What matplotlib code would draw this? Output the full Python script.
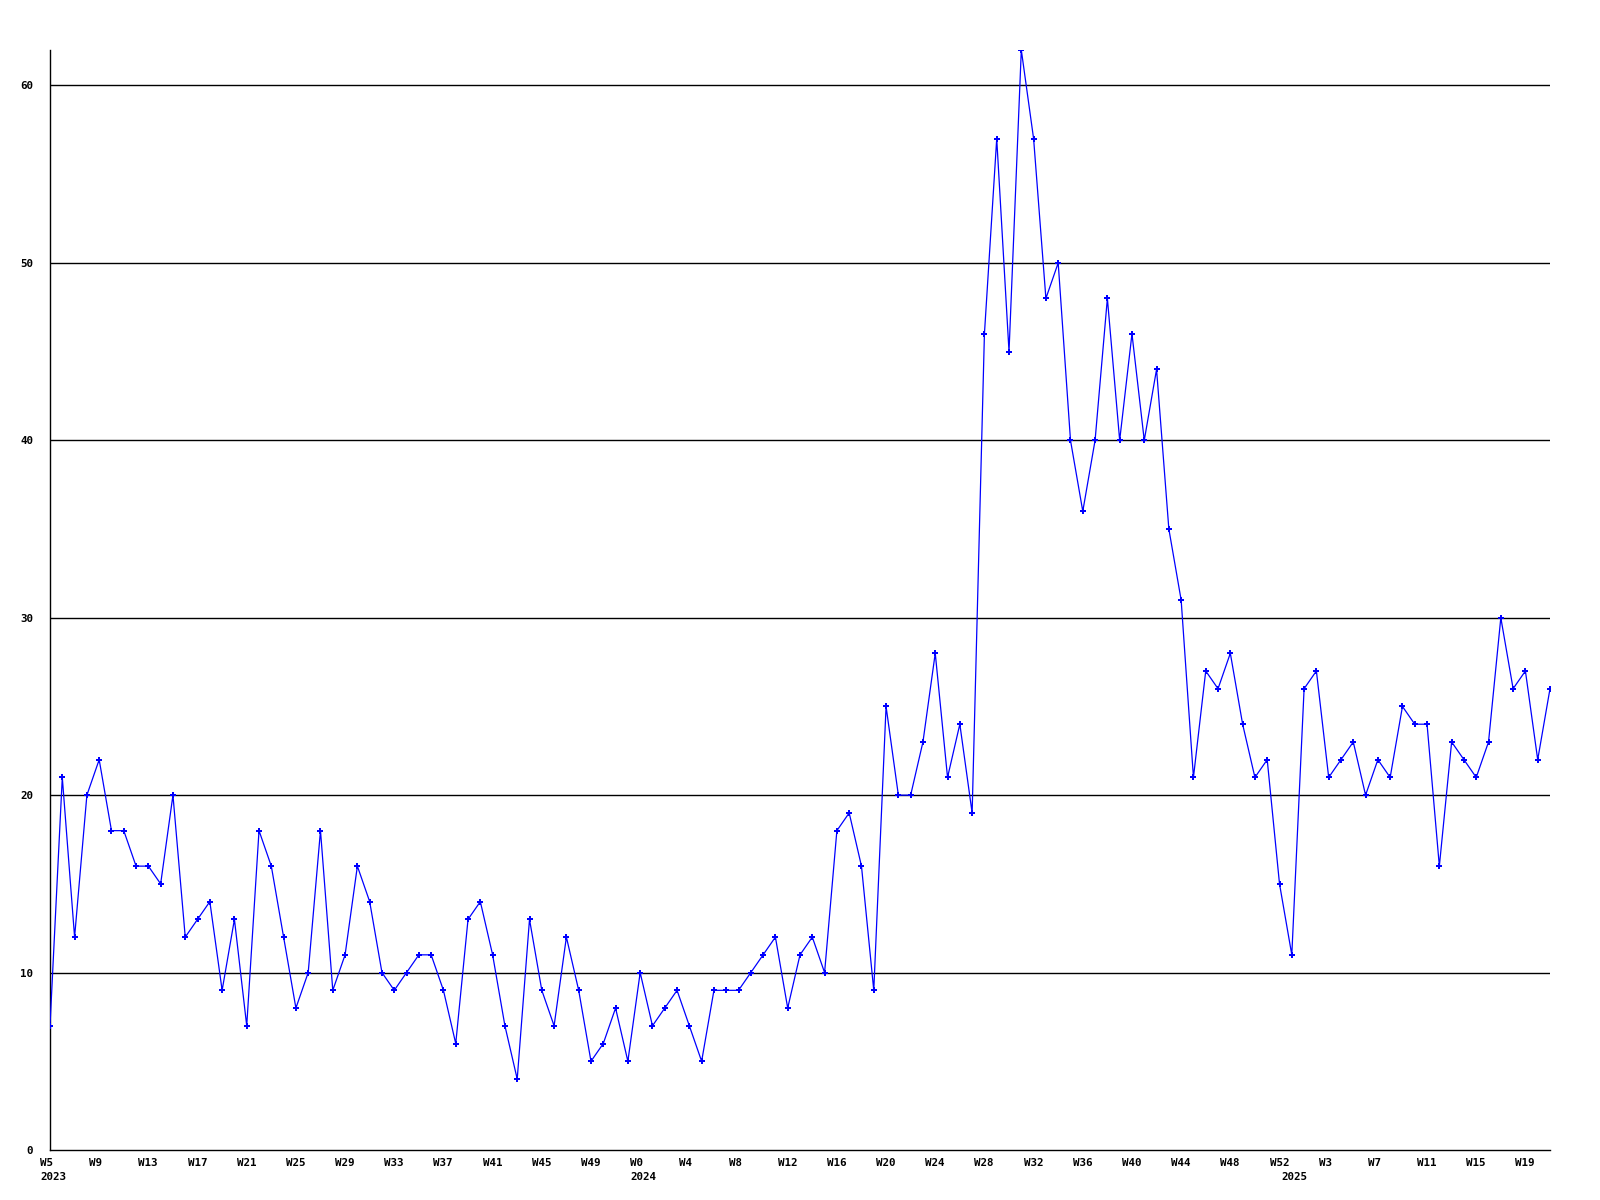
import matplotlib

matplotlib.use("Agg")
import matplotlib.pyplot as plt
from matplotlib.transforms import ScaledTranslation

# week numbers per year (categories, in order)
WEEKS_2023 = list(range(5, 53))
WEEKS_2024 = list(range(0, 53))
WEEKS_2025 = list(range(0, 22))

# weekly counts
VALUES_2023 = [7, 21, 12, 20, 22, 18, 18, 16, 16, 15, 20, 12, 13, 14, 9, 13,
               7, 18, 16, 12, 8, 10, 18, 9, 11, 16, 14, 10, 9, 10, 11, 11,
               9, 6, 13, 14, 11, 7, 4, 13, 9, 7, 12, 9, 5, 6, 8, 5]
VALUES_2024 = [10, 7, 8, 9, 7, 5, 9, 9, 9, 10, 11, 12, 8, 11, 12, 10,
               18, 19, 16, 9, 25, 20, 20, 23, 28, 21, 24, 19, 46, 57, 45, 62,
               57, 48, 50, 40, 36, 40, 48, 40, 46, 40, 44, 35, 31, 21, 27, 26,
               28, 24, 21, 22, 15]
VALUES_2025 = [11, 26, 27, 21, 22, 23, 20, 22, 21, 25, 24, 24, 16, 23, 22,
               21, 23, 30, 26, 27, 22, 26]

YEARS = [2023, 2024, 2025]
Y_TICKS = [0, 10, 20, 30, 40, 50, 60]

weeks = WEEKS_2023 + WEEKS_2024 + WEEKS_2025
values = VALUES_2023 + VALUES_2024 + VALUES_2025
x = list(range(len(values)))
year_start = [0, len(WEEKS_2023), len(WEEKS_2023) + len(WEEKS_2024)]

LABEL_FONT = {"family": "DejaVu Sans Mono", "weight": "bold", "size": 7.8}

fig = plt.figure(figsize=(16, 12), dpi=100)
ax = fig.add_axes([50 / 1600, 50 / 1200, 1500 / 1600, 1100 / 1200])

# horizontal rules at every labelled value above zero
for y in Y_TICKS[1:]:
    ax.axhline(y, color="black", linewidth=1.0, zorder=1)

ax.plot(x, values, color="#0000ff", linewidth=0.9, marker="P",
        markersize=4.5, markeredgewidth=0, zorder=3)

ax.set_xlim(0, len(values) - 1)
ax.set_ylim(0, 62)

for side in ("top", "right"):
    ax.spines[side].set_visible(False)
for side in ("left", "bottom"):
    ax.spines[side].set_linewidth(1.0)
    ax.spines[side].set_color("black")

ax.set_yticks(Y_TICKS)
ax.set_yticklabels([str(v) for v in Y_TICKS], fontdict=LABEL_FONT)
ax.tick_params(axis="y", length=0, pad=12)

# every 4th week labelled, text starting a little left of the point
tick_idx = x[::4]
ax.set_xticks(tick_idx)
ax.set_xticklabels([f"W{weeks[i]}" for i in tick_idx], fontdict=LABEL_FONT)
ax.tick_params(axis="x", length=0, pad=6)
shift = ScaledTranslation(-10 / 100, 0, fig.dpi_scale_trans)
for lab in ax.get_xticklabels():
    lab.set_horizontalalignment("left")
    lab.set_transform(lab.get_transform() + shift)

# year labels under the first week of each year
tr = ax.get_xaxis_transform() + ScaledTranslation(-10 / 100, -27 / 100, fig.dpi_scale_trans)
for yr, i in zip(YEARS, year_start):
    ax.text(i, 0, str(yr), transform=tr, ha="left", va="center", **LABEL_FONT)

fig.savefig("out.png", dpi=100, facecolor="white")
